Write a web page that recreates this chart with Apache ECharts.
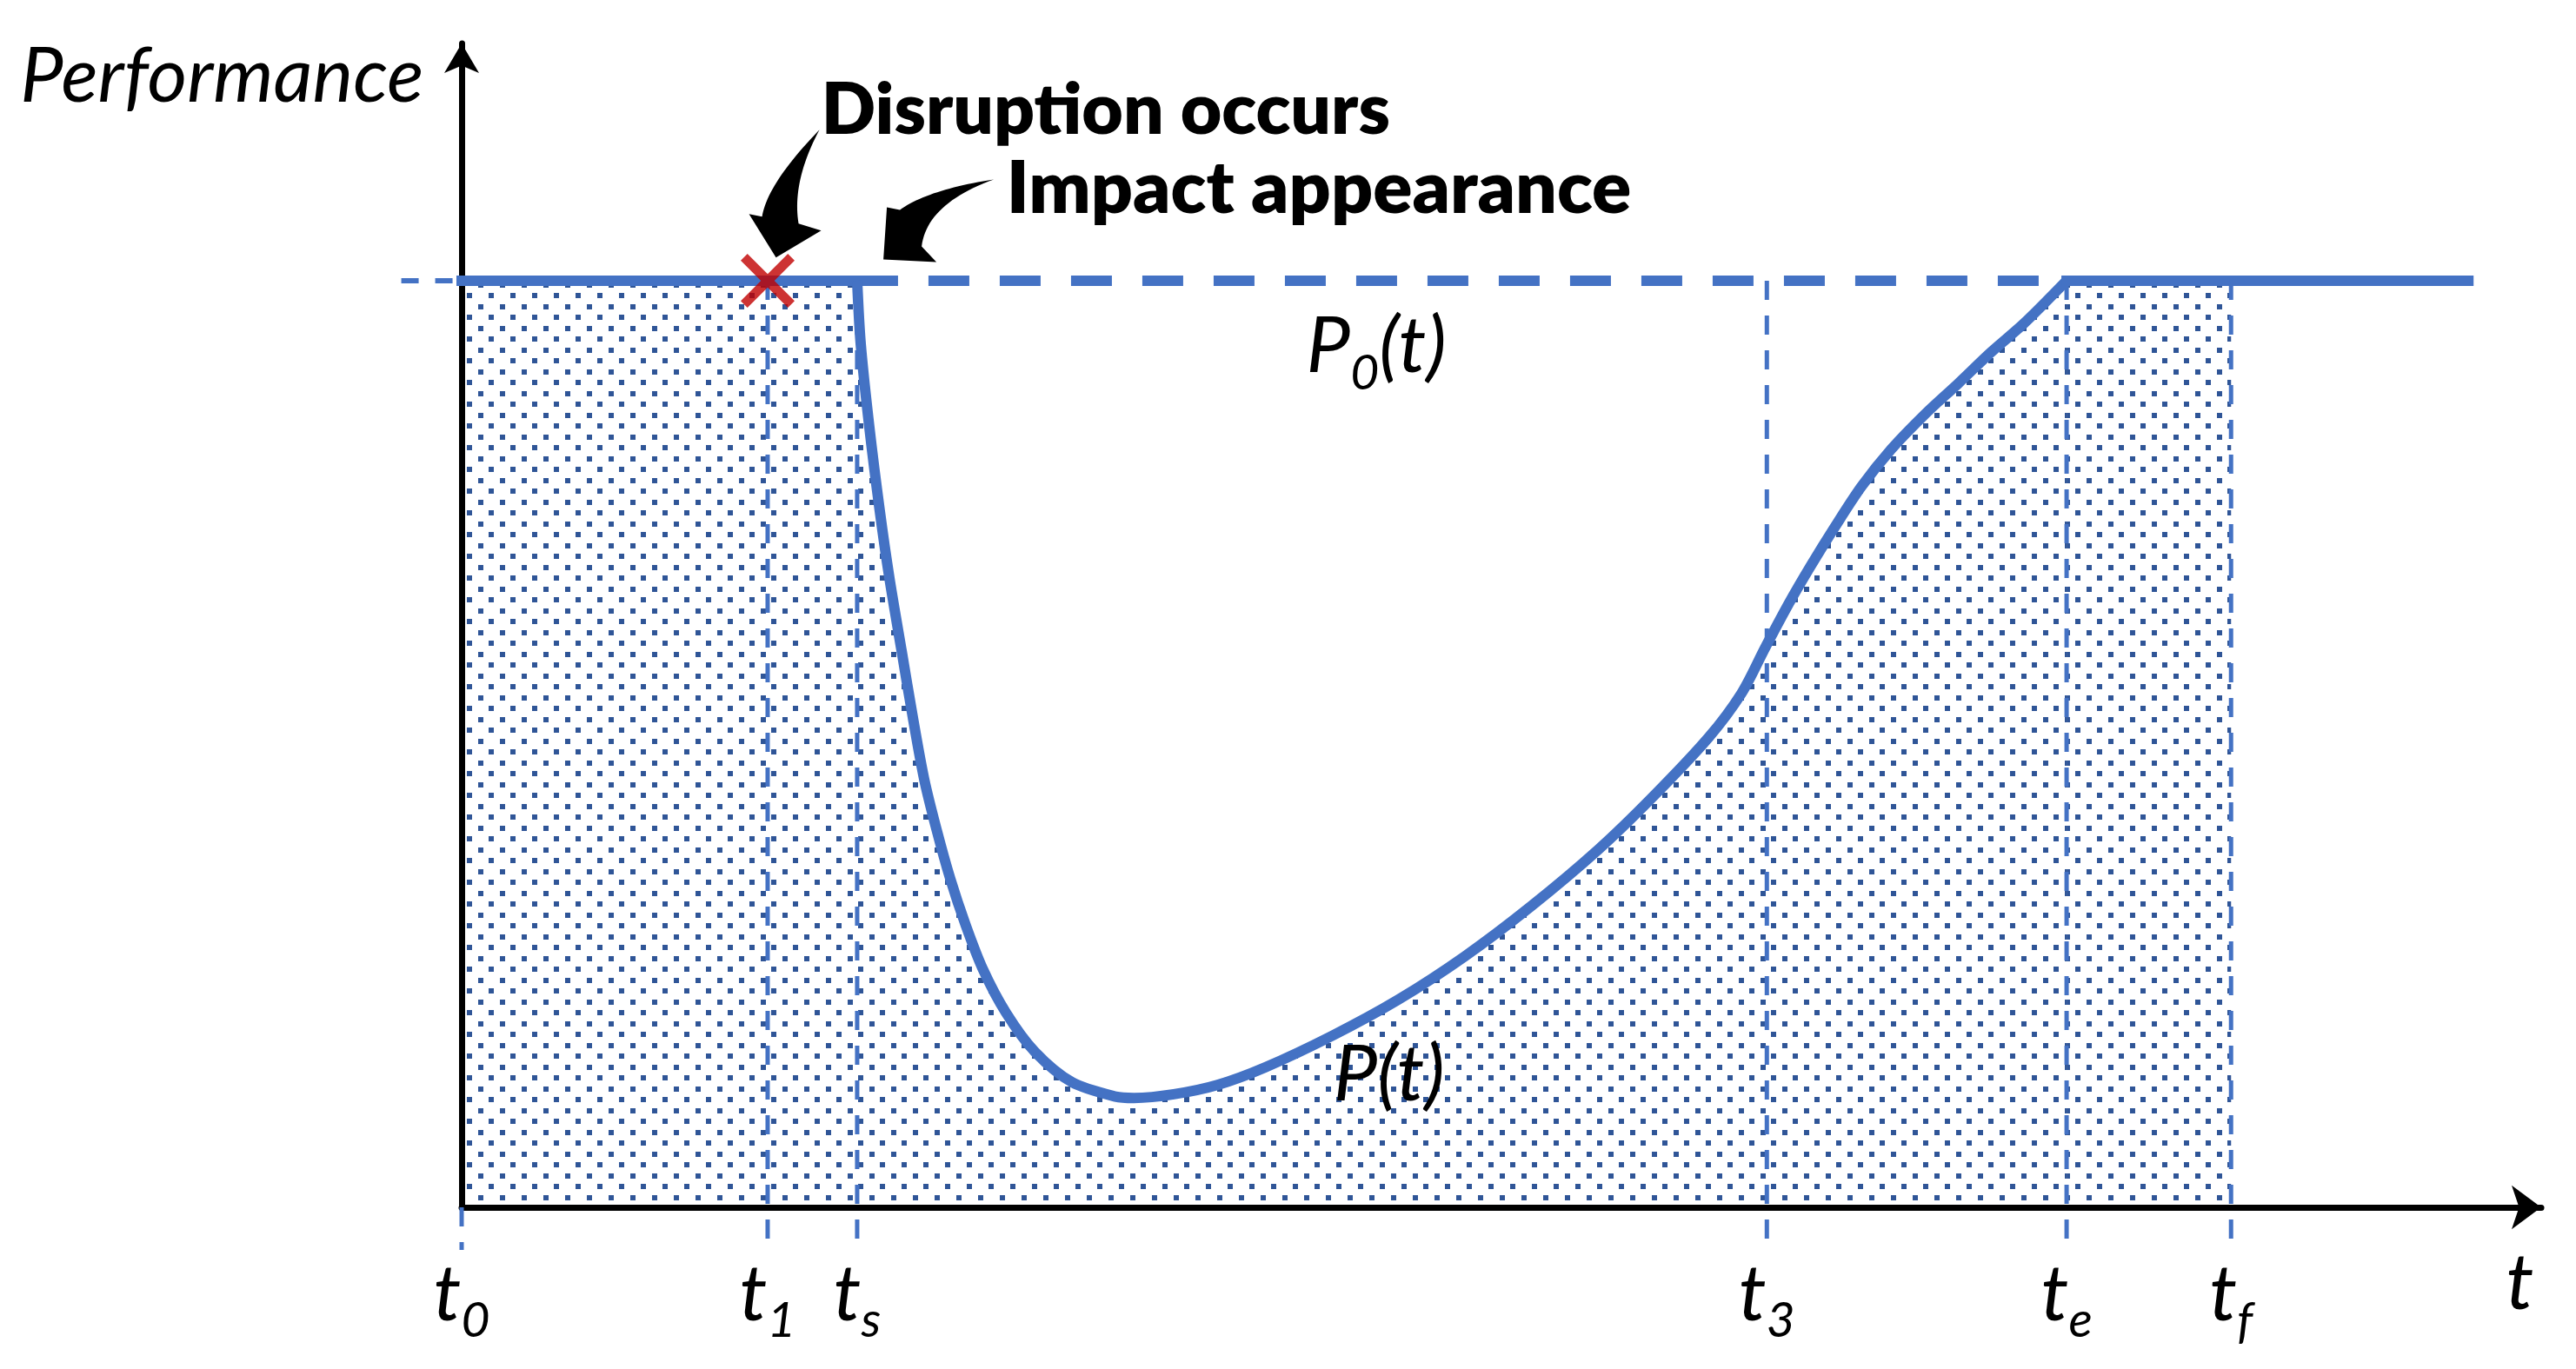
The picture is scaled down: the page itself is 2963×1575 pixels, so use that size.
<!DOCTYPE html>
<html><head><meta charset="utf-8">
<script src="https://cdn.jsdelivr.net/npm/echarts@6/dist/echarts.min.js"></script>
<style>html,body{margin:0;padding:0;background:#fff}#c{width:2963px;height:1575px}</style>
</head><body><div id="c"></div>
<script>
// ---- data ----
const tickNames = ['0', '1', 's', '3', 'e', 'f'];
const tickTimes = [0, 14.7, 19.0, 62.7, 77.1, 85.0];
const lineEndTime = 96.4;
const nominalPerformance = 100;
const stubStartTime = -2.9;
const guideBottom = -4.6;
const curveTime = [19.0, 19.17, 19.59, 20.09, 20.55, 21.14, 21.68, 22.22, 22.81, 23.48, 24.19, 25.02, 26.15, 27.53, 29.32, 31.41, 32.3, 34.21, 36.30, 38.60, 41.81, 44.99, 48.20, 51.38, 54.60, 57.18, 59.90, 61.49, 62.62, 63.74, 64.83, 65.96, 67.25, 68.67, 70.30, 71.89, 73.48, 75.06, 77.1];
const curveValue = [100, 93.2, 84.1, 75.1, 67.9, 60.0, 52.8, 46.2, 40.8, 35.4, 30.6, 25.8, 21.0, 16.8, 13.5, 11.95, 11.8, 12.2, 13.2, 15.1, 18.5, 22.4, 27.1, 32.5, 38.6, 44.2, 50.7, 55.5, 60.4, 65.1, 69.3, 73.4, 77.8, 81.8, 85.6, 88.9, 92.3, 95.4, 100];

// ---- styles ----
const BLUE = '#4472C4', DOT = '#2F5597', RED = '#C00000';
const FONT = 'Lato';
const X_MIN = 0, X_MAX = 99.9, Y_MIN = 0, Y_MAX = 125.6;
const SMOOTH = 0.3;

function dotPattern() {
  const c = document.createElement('canvas');
  c.width = 25; c.height = 25;
  const g = c.getContext('2d');
  g.fillStyle = DOT;
  g.fillRect(0, 0, 6, 6);
  g.fillRect(12, 12, 6, 6);
  return c;
}

const [t0, t1, ts, t3, te, tf] = tickTimes;
const P0 = nominalPerformance;
const curve = curveTime.map((t, i) => [t, curveValue[i]]);
const pattern = { image: dotPattern(), repeat: 'repeat' };

const rich = {
  i: { fontFamily: FONT, fontStyle: 'italic', fontSize: 90, lineHeight: 100, color: '#000' },
  s: { fontFamily: FONT, fontStyle: 'italic', fontSize: 57, lineHeight: 100, padding: [60, 0, 0, 0], color: '#000' }
};

function note(pos, text, extra) {
  return {
    value: pos,
    label: Object.assign({
      show: true, position: [0, 0], formatter: text, align: 'left', verticalAlign: 'middle',
      fontFamily: FONT, fontSize: 88, color: '#000', opacity: 1, rich: rich
    }, extra || {})
  };
}

function areaPiece(data, smooth) {
  return {
    type: 'line', silent: true, symbol: 'none', z: 1, smooth: smooth || false,
    data: data, lineStyle: { width: 0 },
    areaStyle: { color: pattern, opacity: 1 }
  };
}
function linePiece(data, smooth, cap) {
  return {
    type: 'line', silent: true, symbol: 'none', z: 5, smooth: smooth || false,
    data: data,
    lineStyle: { color: BLUE, width: 12, join: 'miter', cap: cap || 'butt' }
  };
}

const guideSeries = tickTimes.map(t => ({
  type: 'line', silent: true, clip: false, symbol: 'none', z: 3,
  data: [[t, t === t0 ? 0 : P0], [t, guideBottom]],
  lineStyle: { color: BLUE, width: 5, type: [22, 18] }
}));

const option = {
  animation: false,
  backgroundColor: '#fff',
  grid: { left: 531, right: 40, top: 50, bottom: 186, containLabel: false, outerBoundsMode: 'none' },
  xAxis: {
    type: 'value', min: X_MIN, max: X_MAX, z: 2,
    axisLine: { show: true, onZero: false, lineStyle: { color: '#000', width: 7 }, symbol: ['none', 'arrow'], symbolSize: [38, 34] },
    axisTick: { show: false },
    splitLine: { show: false },
    axisLabel: {
      customValues: tickTimes,
      margin: 51,
      formatter: v => {
        const k = tickTimes.findIndex(x => Math.abs(x - v) < 1e-6);
        return k < 0 ? '' : '{i|t}{s|' + tickNames[k] + '}';
      },
      rich: rich
    }
  },
  yAxis: {
    type: 'value', min: Y_MIN, max: Y_MAX, z: 2,
    axisLine: { show: true, onZero: false, lineStyle: { color: '#000', width: 7 }, symbol: ['none', 'arrow'], symbolSize: [30, 34] },
    axisTick: { show: false },
    splitLine: { show: false },
    axisLabel: { show: false }
  },
  series: [
    areaPiece([[t0, P0], [ts, P0]]),
    areaPiece(curve, SMOOTH),
    areaPiece([[te, P0], [tf, P0]]),
    ...guideSeries,
    {
      type: 'custom', silent: true, z: 3,
      data: [[stubStartTime, P0, t0]],
      renderItem: (params, api) => {
        const a = api.coord([api.value(0), api.value(1)]);
        const b = api.coord([api.value(2), api.value(1)]);
        return {
          type: 'line',
          shape: { x1: a[0], y1: a[1], x2: b[0], y2: b[1] },
          style: { stroke: BLUE, lineWidth: 6, lineDash: [20, 19] }
        };
      }
    },
    {
      type: 'line', silent: true, symbol: 'none', z: 4,
      data: [[ts, P0], [te, P0]],
      lineStyle: { color: BLUE, width: 12, type: [47, 35], cap: 'butt' }
    },
    linePiece([[t0, P0], [ts, P0]], false, 'square'),
    linePiece(curve, SMOOTH),
    linePiece([[te, P0], [lineEndTime, P0]], false, 'square'),
    {
      type: 'scatter', silent: true, z: 6,
      symbol: 'path://M2.5,0 L10,7.5 L17.5,0 L20,2.5 L12.5,10 L20,17.5 L17.5,20 L10,12.5 L2.5,20 L0,17.5 L7.5,10 L0,2.5 Z',
      symbolSize: 62,
      itemStyle: { color: RED },
      data: [[t1, P0]]
    },
    {
      type: 'scatter', silent: true, clip: false, z: 10, symbolSize: 1,
      itemStyle: { color: 'rgba(0,0,0,0)' },
      data: [
        note([-1.8, 121.9], 'Performance', { align: 'right', fontStyle: 'italic' }),
        note([17.3, 118.3], 'Disruption occurs', { fontWeight: 800, fontSize: 82 }),
        note([26.2, 109.8], 'Impact appearance', { fontWeight: 800, fontSize: 84 }),
        note([40.6, 92.8], '{i|P}{s|0}{i|(t)}'),
        note([41.9, 14.2], '{i|P(t)}'),
        note([98.9, -8.3], '{i|t}', { align: 'center' })
      ]
    }
  ]
};

const chart = echarts.init(document.getElementById('c'));
chart.setOption(option);

// ---- curved call-out arrows, anchored at data points ----
function quad(p0, c, p1, n) {
  const pts = [];
  for (let k = 0; k <= n; k++) {
    const u = k / n;
    pts.push([(1 - u) * (1 - u) * p0[0] + 2 * (1 - u) * u * c[0] + u * u * p1[0],
              (1 - u) * (1 - u) * p0[1] + 2 * (1 - u) * u * c[1] + u * u * p1[1]]);
  }
  return pts;
}
const disruptionShape = [].concat(
  quad([50, -147], [-10, -85], [-16, -47], 24),
  [[-31, -50], [0, 0], [52, -31], [26, -39]],
  quad([26, -39], [18, -87], [50, -147], 24)
);
const impactShape = [].concat(
  quad([127, -92], [51, -80], [19, -57], 24),
  [[4, -60], [0, 0], [61, 3], [44, -15]],
  quad([44, -15], [50, -64], [127, -92], 24)
);
const tipD = chart.convertToPixel({ gridIndex: 0 }, [15.1, 102.5]);
const tipI = chart.convertToPixel({ gridIndex: 0 }, [20.26, 102.3]);
chart.setOption({
  graphic: [
    { type: 'polygon', x: tipD[0], y: tipD[1], shape: { points: disruptionShape }, style: { fill: '#000' }, z: 20 },
    { type: 'polygon', x: tipI[0], y: tipI[1], shape: { points: impactShape }, style: { fill: '#000' }, z: 20 }
  ]
});
</script>
</body></html>
